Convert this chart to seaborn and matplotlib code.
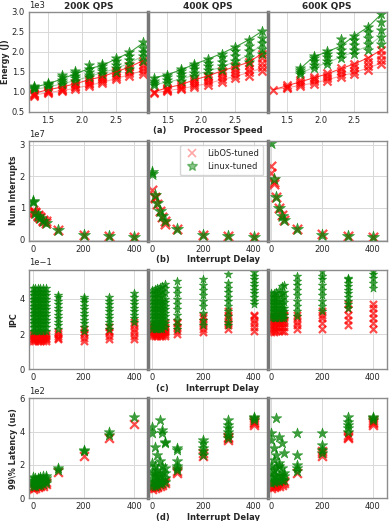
import matplotlib
matplotlib.use("Agg")
import matplotlib.pyplot as plt
from matplotlib.lines import Line2D
import seaborn as sns
import numpy as np
import pandas as pd

# ---- data ----
qps_labels = ["200K QPS", "400K QPS", "600K QPS"]
speeds = [1.3, 1.5, 1.7, 1.9, 2.1, 2.3, 2.5, 2.7, 2.9]
delays = [0, 10, 20, 30, 40, 50, 100, 200, 300, 400]

# (a) energy, units of 1e3 J, one list of points per processor speed
energy_libos_200k = [[0.90, 0.93, 0.95, 0.97], [0.97, 1.00, 1.02, 1.05], [1.02, 1.05, 1.08, 1.12],
                     [1.07, 1.11, 1.15, 1.19, 1.22], [1.15, 1.19, 1.23, 1.27, 1.31], [1.23, 1.27, 1.31, 1.35, 1.39],
                     [1.31, 1.36, 1.41, 1.46, 1.52], [1.40, 1.46, 1.52, 1.58, 1.65], [1.45, 1.52, 1.60, 1.68, 1.78]]
energy_linux_200k = [[1.06, 1.09, 1.12, 1.15], [1.12, 1.16, 1.19, 1.22], [1.20, 1.25, 1.30, 1.36, 1.42],
                     [1.28, 1.34, 1.40, 1.46, 1.52], [1.36, 1.43, 1.50, 1.57, 1.68], [1.45, 1.52, 1.58, 1.64, 1.70],
                     [1.50, 1.60, 1.68, 1.76, 1.85], [1.58, 1.70, 1.80, 1.90, 1.99], [1.78, 1.90, 2.00, 2.10, 2.25]]
energy_libos_400k = [[0.97, 1.00], [1.02, 1.05, 1.08, 1.10], [1.06, 1.10, 1.14, 1.19],
                     [1.12, 1.17, 1.22, 1.28, 1.32], [1.18, 1.24, 1.30, 1.36, 1.40], [1.25, 1.32, 1.39, 1.46, 1.53],
                     [1.35, 1.42, 1.50, 1.57, 1.64], [1.40, 1.49, 1.58, 1.66, 1.74], [1.52, 1.62, 1.72, 1.84, 1.96]]
energy_linux_400k = [[1.16, 1.22, 1.28, 1.35], [1.22, 1.29, 1.36, 1.43], [1.28, 1.36, 1.44, 1.52, 1.57],
                     [1.40, 1.48, 1.56, 1.64, 1.70], [1.45, 1.55, 1.64, 1.73, 1.82], [1.55, 1.65, 1.75, 1.86, 1.96],
                     [1.66, 1.78, 1.90, 2.02, 2.12], [1.75, 1.88, 2.02, 2.15, 2.30], [1.95, 2.08, 2.22, 2.36, 2.52]]
energy_libos_600k = [[1.05], [1.10, 1.13, 1.17], [1.15, 1.20, 1.25, 1.30],
                     [1.20, 1.26, 1.32, 1.38], [1.28, 1.34, 1.40, 1.46], [1.38, 1.45, 1.52, 1.60],
                     [1.45, 1.53, 1.62, 1.70], [1.55, 1.65, 1.75, 1.85], [1.70, 1.80, 1.92, 2.05]]
energy_linux_600k = [[], [], [1.45, 1.50, 1.55, 1.60],
                     [1.60, 1.68, 1.76, 1.84, 1.90], [1.70, 1.78, 1.86, 1.94, 2.02], [1.85, 1.95, 2.05, 2.18, 2.32],
                     [1.95, 2.06, 2.18, 2.30, 2.40], [2.05, 2.20, 2.35, 2.50, 2.62], [2.20, 2.38, 2.55, 2.75, 2.95]]

# (a) trend lines (upper / lower), units of 1e3 J
line_libos_hi = [[0.97, 1.05, 1.12, 1.20, 1.30, 1.38, 1.50, 1.62, 1.78],
                 [1.00, 1.10, 1.18, 1.30, 1.40, 1.52, 1.63, 1.74, 1.96],
                 [1.05, 1.15, 1.25, 1.35, 1.45, 1.58, 1.70, 1.85, 2.05]]
line_libos_lo = [[0.92, 0.98, 1.03, 1.09, 1.16, 1.24, 1.33, 1.43, 1.53],
                 [0.97, 1.03, 1.08, 1.14, 1.21, 1.30, 1.39, 1.48, 1.60],
                 [1.05, 1.10, 1.16, 1.22, 1.30, 1.40, 1.48, 1.60, 1.72]]
line_linux_hi = [[1.12, 1.20, 1.32, 1.45, 1.58, 1.66, 1.82, 1.98, 2.22],
                 [1.35, 1.43, 1.55, 1.69, 1.82, 1.96, 2.12, 2.30, 2.52],
                 [np.nan, np.nan, 1.58, 1.88, 2.00, 2.15, 2.40, 2.62, 2.95]]
line_linux_lo = [[1.06, 1.12, 1.20, 1.28, 1.38, 1.48, 1.58, 1.72, 1.90],
                 [1.18, 1.24, 1.32, 1.42, 1.52, 1.62, 1.76, 1.92, 2.20],
                 [np.nan, np.nan, 1.45, 1.62, 1.72, 1.88, 2.00, 2.15, 2.40]]

# (b) number of interrupts, units of 1e7, one list per delay
intr_libos_200k = [[0.88, 0.92], [0.83, 0.86], [0.76, 0.78], [0.68, 0.70], [0.60, 0.63], [0.53, 0.60], [0.30], [0.16], [0.10], [0.08]]
intr_linux_200k = [[1.18, 1.22], [0.85], [0.76], [0.68], [0.60], [0.52], [0.30], [0.15], [0.10], [0.08]]
intr_libos_400k = [[1.58], [1.30, 1.35], [1.13], [0.90], [0.72], [0.50, 0.58], [0.32], [0.16], [0.11], [0.08]]
intr_linux_400k = [[2.08, 2.13], [1.40], [1.15], [0.90], [0.74], [0.60], [0.32], [0.16], [0.11], [0.08]]
intr_libos_600k = [[2.10, 2.32], [1.75, 1.82], [1.35], [1.00], [0.78], [0.62], [0.32], [0.17], [0.11], [0.08]]
intr_linux_600k = [[3.05], [1.90], [1.36], [1.00], [0.76], [0.62], [0.32], [0.16], [0.11], [0.08]]

# (c) IPC, units of 1e-1
ipc_libos_200k = [[1.6, 1.7, 1.8, 1.9, 2.0], [1.6, 1.7, 1.8, 1.9, 2.0], [1.6, 1.7, 1.8, 1.9, 2.0],
                  [1.6, 1.7, 1.8, 1.9, 2.0], [1.6, 1.7, 1.8, 1.9, 2.0], [1.6, 1.7, 1.8, 1.9, 2.0],
                  [1.7, 1.8, 1.9, 2.0, 2.1], [1.6, 1.8, 2.0, 2.1, 2.3], [1.7, 1.9, 2.1, 2.2, 2.4],
                  [1.7, 1.9, 2.1, 2.3, 2.5, 2.7]]
ipc_linux_200k = [[2.2, 2.4, 2.6, 2.8, 3.0, 3.2, 3.4, 3.6, 3.8, 4.0, 4.2, 4.4, 4.6],
                  [2.2, 2.4, 2.6, 2.8, 3.0, 3.2, 3.4, 3.6, 3.8, 4.0, 4.2, 4.4, 4.6],
                  [2.2, 2.4, 2.6, 2.8, 3.0, 3.2, 3.4, 3.6, 3.8, 4.0, 4.2, 4.4, 4.6],
                  [2.2, 2.4, 2.6, 2.8, 3.0, 3.2, 3.4, 3.6, 3.8, 4.0, 4.2, 4.4, 4.6],
                  [2.2, 2.4, 2.6, 2.8, 3.0, 3.2, 3.4, 3.6, 3.8, 4.0, 4.2, 4.4, 4.6],
                  [2.2, 2.4, 2.6, 2.8, 3.0, 3.2, 3.4, 3.6, 3.8, 4.0, 4.2, 4.4, 4.6],
                  [2.3, 2.5, 2.7, 2.9, 3.1, 3.3, 3.5, 3.7, 3.9, 4.1, 4.2],
                  [2.2, 2.4, 2.6, 2.8, 3.0, 3.2, 3.4, 3.6, 3.8, 4.0, 4.1],
                  [2.3, 2.5, 2.7, 2.9, 3.1, 3.3, 3.5, 3.7, 3.9, 4.1],
                  [2.7, 2.9, 3.1, 3.3, 3.5, 3.7, 3.9, 4.1, 4.3]]
ipc_libos_400k = [[1.9, 2.0, 2.1, 2.2, 2.3, 2.4, 2.5], [1.9, 2.0, 2.1, 2.2, 2.3, 2.4, 2.5],
                  [1.9, 2.0, 2.1, 2.2, 2.3, 2.4, 2.5], [1.9, 2.0, 2.1, 2.2, 2.3, 2.4, 2.6],
                  [1.9, 2.0, 2.1, 2.2, 2.3, 2.4, 2.6], [1.9, 2.0, 2.1, 2.2, 2.3, 2.4, 2.6],
                  [2.0, 2.2, 2.4, 2.6, 2.7], [2.1, 2.3, 2.5, 2.7, 2.9, 3.0],
                  [2.3, 2.5, 2.7, 2.9, 3.1, 3.3], [2.2, 2.4, 2.6, 2.8, 3.0, 3.1]]
ipc_linux_400k = [[2.3, 2.5, 2.7, 2.9, 3.1, 3.3, 3.5, 3.7, 3.9, 4.1, 4.3, 4.5],
                  [2.3, 2.5, 2.7, 2.9, 3.1, 3.3, 3.5, 3.7, 3.9, 4.1, 4.3, 4.55],
                  [2.3, 2.5, 2.7, 2.9, 3.1, 3.3, 3.5, 3.7, 3.9, 4.1, 4.3, 4.6],
                  [2.3, 2.5, 2.7, 2.9, 3.1, 3.3, 3.5, 3.7, 3.9, 4.1, 4.4, 4.65],
                  [2.3, 2.5, 2.7, 2.9, 3.1, 3.3, 3.5, 3.7, 3.9, 4.2, 4.45, 4.7],
                  [2.4, 2.6, 2.8, 3.0, 3.2, 3.4, 3.6, 3.8, 4.0, 4.3, 4.6, 4.85],
                  [2.3, 2.5, 2.8, 3.1, 3.4, 3.7, 4.0, 4.3, 4.6, 5.0],
                  [2.5, 2.8, 3.2, 3.6, 3.9, 4.2, 4.5, 4.8, 5.1],
                  [2.5, 2.7, 3.0, 3.3, 3.6, 3.9, 4.1, 4.4, 4.6, 4.9, 5.4],
                  [3.7, 3.9, 4.1, 4.3, 4.5, 4.7, 4.9, 5.1, 5.3, 5.5]]
ipc_libos_600k = [[2.1, 2.3, 2.5, 2.7, 2.9, 3.0], [2.1, 2.3, 2.5, 2.7, 2.9, 3.0],
                  [2.2, 2.4, 2.6, 2.8, 2.9, 3.0], [2.2, 2.4, 2.6, 2.8, 3.0, 3.1],
                  [2.2, 2.4, 2.6, 2.8, 3.0, 3.1], [2.2, 2.4, 2.6, 2.8, 3.0, 3.1],
                  [2.3, 2.5, 2.7, 2.9, 3.1], [2.3, 2.6, 2.9, 3.1, 3.3],
                  [2.5, 2.8, 3.1, 3.4, 3.7], [2.3, 2.6, 2.9, 3.2, 3.5, 3.7]]
ipc_linux_600k = [[2.9, 3.1, 3.3, 3.5, 3.7, 3.9, 4.1, 4.3],
                  [2.9, 3.1, 3.3, 3.5, 3.7, 3.9, 4.1, 4.35],
                  [2.9, 3.1, 3.3, 3.5, 3.7, 3.9, 4.1, 4.4],
                  [2.9, 3.1, 3.3, 3.5, 3.7, 3.9, 4.2, 4.5],
                  [2.9, 3.1, 3.3, 3.5, 3.7, 4.0, 4.3, 4.7],
                  [2.9, 3.1, 3.3, 3.5, 3.8, 4.1, 4.4, 4.8],
                  [3.0, 3.3, 3.6, 3.9, 4.2, 4.5, 4.8, 5.0, 5.3],
                  [3.3, 3.6, 3.9, 4.2, 4.5, 4.8, 5.1, 5.3, 5.6],
                  [3.5, 3.7, 3.9, 4.1, 4.3, 4.5, 4.7, 4.9, 5.1, 5.2],
                  [4.6, 4.9, 5.2, 5.4, 5.6]]

# (d) 99% latency, units of 1e2 us
lat_libos_200k = [[0.55, 0.65], [0.6, 0.7], [0.65, 0.75], [0.7, 0.8], [0.75, 0.85], [0.85, 0.95],
                  [1.55], [2.5], [3.6], [4.45]]
lat_linux_200k = [[0.7, 0.9, 1.1, 1.25], [0.75, 0.9, 1.05, 1.2], [0.8, 0.95, 1.1, 1.2],
                  [0.8, 1.0, 1.15, 1.25], [0.85, 1.0, 1.15, 1.3], [0.9, 1.05, 1.2, 1.3],
                  [1.7, 1.8], [2.8, 2.9], [3.8, 3.95], [4.9]]
lat_libos_400k = [[0.55, 0.65], [0.6, 0.7], [0.65, 0.75], [0.7, 0.85], [0.8, 0.9], [0.9, 1.0],
                  [1.5, 1.6], [2.5, 2.7], [3.5, 3.6, 3.7], [4.4, 4.5, 4.6, 4.7]]
lat_linux_400k = [[0.7, 0.9, 1.2, 1.6, 2.1, 3.9, 4.3], [0.75, 0.95, 1.3, 1.5, 1.9, 3.1],
                  [0.8, 1.0, 1.3, 1.7, 2.6], [0.85, 1.1, 1.4, 2.2, 4.7],
                  [0.9, 1.1, 1.5, 1.9, 3.9, 4.1], [0.95, 1.2, 1.5, 1.8, 3.3, 3.4],
                  [1.7, 1.8, 1.9, 2.2, 2.9, 3.0], [2.6, 2.8, 3.0, 3.3, 3.5],
                  [3.6, 3.8, 4.0, 4.2, 4.4, 4.7], [4.7, 4.8, 4.9]]
lat_libos_600k = [[0.6, 0.7], [0.65, 0.75], [0.7, 0.8], [0.75, 0.85], [0.8, 0.9], [0.9, 1.0],
                  [1.5], [2.5, 2.7, 2.8], [3.6, 3.7, 3.8], [4.4, 4.5, 4.6, 4.7]]
lat_linux_600k = [[0.9, 1.2, 1.5, 1.9, 3.5, 3.9], [0.95, 1.3, 1.7, 2.3, 3.0],
                  [1.0, 1.3, 1.8, 2.6, 4.8], [1.0, 1.4, 1.9, 2.1, 3.7],
                  [1.1, 1.4, 1.8, 3.3], [1.1, 1.3, 1.5, 2.7],
                  [1.6, 1.8, 2.0, 2.6, 3.9], [2.7, 2.9, 3.2, 3.9],
                  [4.0, 4.2, 4.4, 4.6, 4.9], [4.7, 4.8, 4.9]]

RED = "#ff0000"
GREEN = "#008000"


def long_form(xs, groups, unit):
    rows = [(x, v * unit) for x, vals in zip(xs, groups) for v in vals]
    return pd.DataFrame(rows, columns=["x", "y"])


sns.set_style("whitegrid")
plt.rcParams["font.family"] = ["DejaVu Sans"]
plt.rcParams["font.size"] = 6

fig, axes = plt.subplots(4, 3, figsize=(3.9, 5.21), dpi=100, sharey="row", sharex="row")
fig.subplots_adjust(left=0.0744, right=0.992, top=0.977, bottom=0.044, hspace=0.29, wspace=0)

# (x-marker size, star size) per row
rows = [
    (speeds, [energy_libos_200k, energy_libos_400k, energy_libos_600k],
     [energy_linux_200k, energy_linux_400k, energy_linux_600k], 1e3, (34, 60), "Energy (J)", "(a)"),
    (delays, [intr_libos_200k, intr_libos_400k, intr_libos_600k],
     [intr_linux_200k, intr_linux_400k, intr_linux_600k], 1e7, (45, 85), "Num Interrupts", "(b)"),
    (delays, [ipc_libos_200k, ipc_libos_400k, ipc_libos_600k],
     [ipc_linux_200k, ipc_linux_400k, ipc_linux_600k], 1e-1, (26, 42), "IPC", "(c)"),
    (delays, [lat_libos_200k, lat_libos_400k, lat_libos_600k],
     [lat_linux_200k, lat_linux_400k, lat_linux_600k], 1e2, (40, 65), "99\\% Latency (us)", "(d)"),
]

for r, (xs, libos, linux, unit, sizes, ylabel, tag) in enumerate(rows):
    for c in range(3):
        ax = axes[r, c]
        if r == 0:
            for vals, col, a in [(line_libos_hi[c], RED, 0.75), (line_libos_lo[c], RED, 0.35),
                                 (line_linux_hi[c], GREEN, 0.75), (line_linux_lo[c], GREEN, 0.35)]:
                sns.lineplot(x=speeds, y=np.array(vals) * unit, color=col, alpha=a, lw=0.8, ax=ax)
        sns.scatterplot(data=long_form(xs, libos[c], unit), x="x", y="y", marker="x",
                        color=RED, s=sizes[0], alpha=0.7, linewidth=1.6, ax=ax)
        sns.scatterplot(data=long_form(xs, linux[c], unit), x="x", y="y", marker="*",
                        color=GREEN, edgecolor=GREEN, s=sizes[1], alpha=0.75, linewidth=0.4, ax=ax)
        ax.set_xlabel("")
        ax.set_ylabel("")
        ax.grid(True, color="#d8d8d8", lw=0.7)
        for sp in ax.spines.values():
            sp.set_color("#8c8c8c")
            sp.set_linewidth(1.0)
        if c > 0:
            ax.spines["left"].set_linewidth(2.5)
            ax.spines["left"].set_color("#777777")
        ax.tick_params(labelsize=6, length=2, color="#8c8c8c", pad=1)
        ax.ticklabel_format(axis="y", style="sci", scilimits=(0, 0))
        ax.yaxis.get_offset_text().set_fontsize(6)
        if r == 0:
            ax.set_title(qps_labels[c], fontsize=6.5, fontweight="bold", pad=2)
    axes[r, 0].set_ylabel(ylabel, fontsize=5.8, fontweight="bold", labelpad=1)
    axes[r, 1].set_xlabel(tag + "      " + ("Processor Speed" if r == 0 else "Interrupt Delay"),
                          fontsize=6, fontweight="bold", labelpad=1)
    if r == 0:
        axes[r, 0].set_xticks([1.5, 2.0, 2.5])
    else:
        axes[r, 0].set_xlim(-15, 455)
        axes[r, 0].set_xticks([0, 200, 400])

axes[0, 0].set_ylim(500, 3000)
axes[1, 0].set_ylim(-0.03e7, 3.12e7)
axes[1, 0].set_yticks([0, 1e7, 2e7, 3e7])
axes[2, 0].set_ylim(0, 0.566)
axes[2, 0].set_yticks([0, 0.2, 0.4])
axes[3, 0].set_ylim(0, 600)
axes[3, 0].set_yticks([0, 200, 400, 600])

handles = [Line2D([], [], marker="x", color=RED, alpha=0.35, ls="", markersize=6, mew=1.2),
           Line2D([], [], marker="*", color=GREEN, alpha=0.45, ls="", markersize=7)]
axes[1, 1].legend(handles, ["LibOS-tuned", "Linux-tuned"], loc="upper right", fontsize=6,
                  frameon=True, edgecolor="#cccccc", handletextpad=0.8, borderpad=0.5)

fig.savefig("out.png", dpi=100)
